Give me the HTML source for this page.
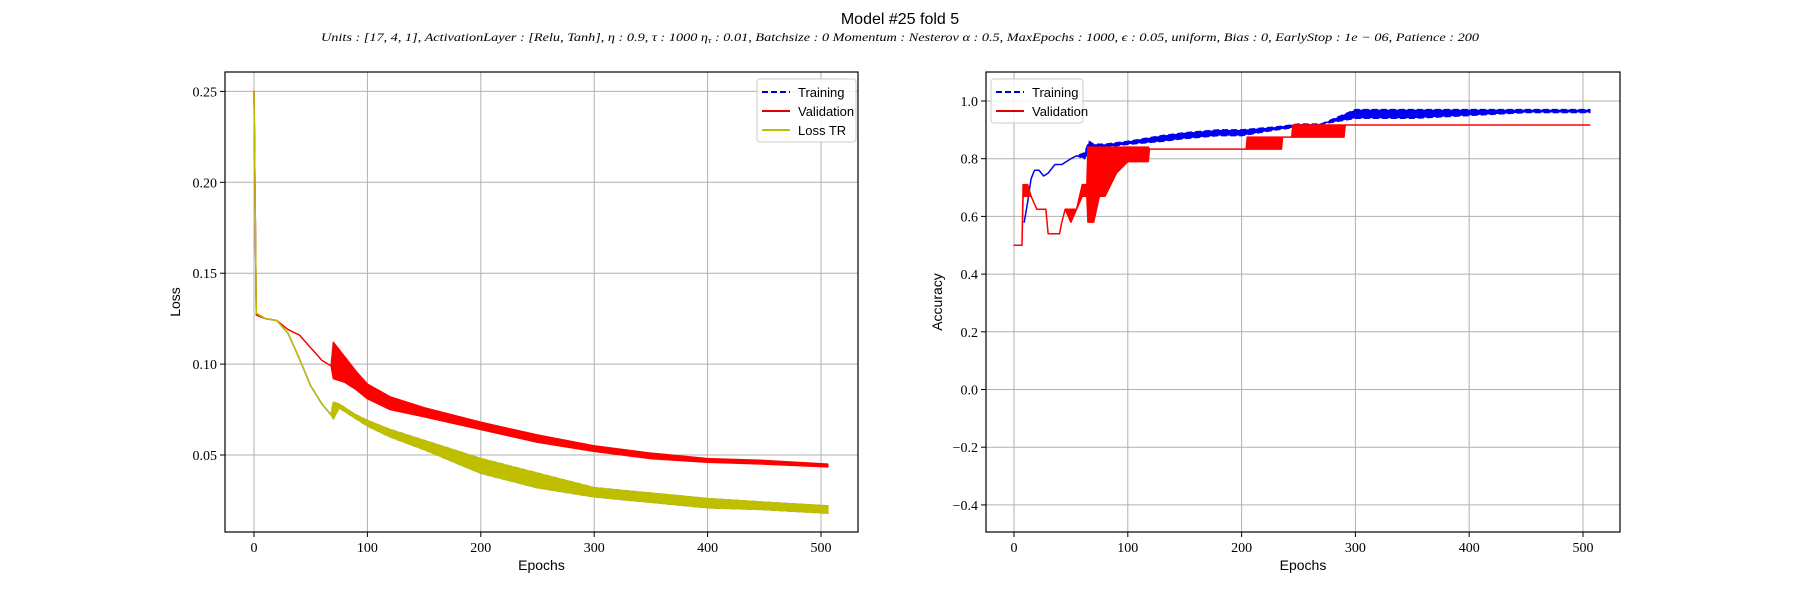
<!DOCTYPE html>
<html><head><meta charset="utf-8"><style>
html,body{margin:0;padding:0;background:#fff;}
svg text{font-family:"Liberation Serif",serif;}
</style></head><body>
<svg id="fig" width="1800" height="600" viewBox="0 0 1800 600" xmlns="http://www.w3.org/2000/svg">
<text x="900" y="24" text-anchor="middle" font-size="16" style="font-family:'Liberation Sans',sans-serif">Model #25 fold 5</text>
<text x="900" y="41" text-anchor="middle" font-size="12" font-style="italic" textLength="1158" lengthAdjust="spacingAndGlyphs">Units : [17, 4, 1], ActivationLayer : [Relu, Tanh], η : 0.9, τ : 1000 η<tspan font-size="8" dy="2">τ</tspan><tspan dy="-2"> : 0.01, Batchsize : 0 Momentum : Nesterov α : 0.5, MaxEpochs : 1000, ϵ : 0.05, uniform, Bias : 0, EarlyStop : 1e − 06, Patience : 200</tspan></text>
<g id="left"></g>
<g id="right"></g>
</svg>
<script>
// ---- Loss chart data ----
const lossEpochs   = [0, 2, 10, 20, 30, 40, 50, 60, 68, 70, 75, 80, 90, 100, 120, 150, 200, 250, 300, 350, 400, 450, 506];
const valLossLow   = [0.25,0.127,0.125,0.124,0.119,0.116,0.109,0.102,0.099,0.092,0.091,0.090,0.086,0.081,0.075,0.071,0.064,0.057,0.052,0.048,0.046,0.045,0.0435];
const valLossHigh  = [0.25,0.127,0.125,0.124,0.119,0.116,0.109,0.102,0.099,0.112,0.108,0.104,0.096,0.089,0.082,0.076,0.068,0.061,0.055,0.051,0.048,0.047,0.045];
const trLossLow    = [0.25,0.128,0.125,0.124,0.117,0.103,0.088,0.078,0.072,0.070,0.076,0.074,0.070,0.066,0.060,0.053,0.040,0.032,0.027,0.024,0.021,0.020,0.018];
const trLossHigh   = [0.25,0.128,0.125,0.124,0.117,0.103,0.088,0.078,0.072,0.079,0.078,0.076,0.072,0.069,0.064,0.058,0.048,0.040,0.032,0.029,0.026,0.024,0.022];
const lossXTicks   = [0,100,200,300,400,500];
const lossYTicks   = [0.05,0.10,0.15,0.20,0.25];
const lossYLabels  = ["0.05","0.10","0.15","0.20","0.25"];
// ---- Accuracy chart data ----
const accTrEpochs  = [9, 12, 15, 18, 22, 26, 30, 36, 42, 50, 55, 62, 66, 70, 80, 100, 130, 150, 180, 200, 230, 250, 270, 300, 350, 400, 450, 506];
const accTrLow     = [0.58,0.65,0.73,0.76,0.76,0.74,0.75,0.78,0.78,0.80,0.81,0.80,0.83,0.84,0.84,0.85,0.86,0.87,0.88,0.88,0.90,0.91,0.92,0.94,0.94,0.95,0.96,0.96];
const accTrHigh    = [0.58,0.65,0.73,0.76,0.76,0.74,0.75,0.78,0.78,0.80,0.81,0.82,0.86,0.85,0.85,0.86,0.88,0.89,0.90,0.90,0.91,0.92,0.92,0.97,0.97,0.97,0.97,0.97];
const accValEpochs = [0, 7, 8, 12, 15, 20, 28, 30, 40, 42, 45, 50, 55, 60, 64, 65, 70, 75, 80, 90, 100, 118, 119, 204, 205, 235, 236, 244, 245, 290, 291, 506];
const accValLow    = [0.5,0.5,0.67,0.67,0.67,0.625,0.625,0.54,0.54,0.58,0.625,0.58,0.625,0.67,0.67,0.58,0.58,0.67,0.67,0.75,0.79,0.79,0.833,0.833,0.833,0.833,0.875,0.875,0.875,0.875,0.917,0.917];
const accValHigh   = [0.5,0.5,0.71,0.71,0.67,0.625,0.625,0.54,0.54,0.58,0.625,0.625,0.625,0.71,0.71,0.84,0.84,0.84,0.84,0.84,0.84,0.84,0.833,0.833,0.875,0.875,0.875,0.875,0.917,0.917,0.917,0.917];
const accXTicks    = [0,100,200,300,400,500];
const accYTicks    = [-0.4,-0.2,0.0,0.2,0.4,0.6,0.8,1.0];
const accYLabels   = ["−0.4","−0.2","0.0","0.2","0.4","0.6","0.8","1.0"];

const NS="http://www.w3.org/2000/svg";
function mk(parent,tag,attrs){const e=document.createElementNS(NS,tag);for(const k in attrs)e.setAttribute(k,attrs[k]);parent.appendChild(e);return e;}

function frame(g,box,xs,ys,xT,yT,yL,yTitle,nameP){
  xT.forEach((t,i)=>{
    const l=mk(g,'line',{x1:xs(t),x2:xs(t),y1:box.t,y2:box.b,stroke:'#b0b0b0','stroke-width':1});
    
    
    mk(g,'line',{x1:xs(t),x2:xs(t),y1:box.b,y2:box.b+5,stroke:'#000'});
    const tx=mk(g,'text',{x:xs(t),y:box.b+20,'text-anchor':'middle','font-size':14});
    tx.textContent=String(t);
    
    
  });
  yT.forEach((t,i)=>{
    const l=mk(g,'line',{x1:box.l,x2:box.r,y1:ys(t),y2:ys(t),stroke:'#b0b0b0','stroke-width':1});
    
    
    mk(g,'line',{x1:box.l-5,x2:box.l,y1:ys(t),y2:ys(t),stroke:'#000'});
    const tx=mk(g,'text',{x:box.l-8,y:ys(t)+5,'text-anchor':'end','font-size':14});
    tx.textContent=yL[i];
    
    
  });
  const xl=mk(g,'text',{x:(box.l+box.r)/2,y:box.b+38,'text-anchor':'middle','font-size':14,style:"font-family:'Liberation Sans',sans-serif"});
  xl.textContent='Epochs';
  
  
  const yl=mk(g,'text',{x:0,y:0,'text-anchor':'middle','font-size':14,style:"font-family:'Liberation Sans',sans-serif",transform:`translate(${box.yt},${(box.t+box.b)/2}) rotate(-90)`});
  yl.textContent=yTitle;
  
  
}
function border(g,box){
  const r=mk(g,'rect',{x:box.l,y:box.t,width:box.r-box.l,height:box.b-box.t,fill:'none',stroke:'#000','stroke-width':1.2});
  
  
}
function band(g,xs,ys,ep,lo,hi,color,name,dash){
  const up=ep.map((e,i)=>xs(e)+','+ys(hi[i]));
  const dn=ep.map((e,i)=>xs(e)+','+ys(lo[i])).reverse();
  const p=mk(g,'polygon',{points:up.concat(dn).join(' '),fill:color,stroke:color,'stroke-width':1.5,'stroke-linejoin':'round'});
  if(dash){p.setAttribute('stroke-dasharray',dash);}
  
  
}
function legend(g,x,y,w,entries){
  const r=mk(g,'rect',{x:x,y:y,width:w,height:entries.length*19+6,fill:'#fff','fill-opacity':0.85,stroke:'#ccc',rx:3});
  
  
  entries.forEach((en,i)=>{
    const cy=y+13+i*19;
    const l=mk(g,'line',{x1:x+5,x2:x+33,y1:cy,y2:cy,stroke:en.c,'stroke-width':2});
    if(en.d)l.setAttribute('stroke-dasharray',en.d);
    
    
    const t=mk(g,'text',{x:x+41,y:cy+5,'font-size':13,style:"font-family:'Liberation Sans',sans-serif"});
    t.textContent=en.t;
    
    
  });
}

// Left chart
(function(){
  const g=document.getElementById('left');
  const box={l:225,r:858,t:72,b:532,yt:180};
  const xs=e=>254+(e)*(821-254)/500;
  const ys=v=>455-(v-0.05)*(363.6/0.2);
  frame(g,box,xs,ys,lossXTicks,lossYTicks,lossYLabels,'Loss','loss');
  band(g,xs,ys,lossEpochs,trLossLow,trLossHigh,'#1f3fd0','loss-training-series','5,3');
  band(g,xs,ys,lossEpochs,valLossLow,valLossHigh,'#ff0000','loss-validation-series');
  band(g,xs,ys,lossEpochs,trLossLow,trLossHigh,'#bfbf00','loss-tr-series');
  border(g,box);
  legend(g,757,79,99,[{t:'Training',c:'#0000cc',d:'6,3'},{t:'Validation',c:'#dd0000'},{t:'Loss TR',c:'#bfbf00'}]);
})();
// Right chart
(function(){
  const g=document.getElementById('right');
  const box={l:986,r:1620,t:72,b:532,yt:942};
  const xs=e=>1014+(e)*(1583-1014)/500;
  const ys=v=>101-(v-1.0)*(57.7/0.2);
  frame(g,box,xs,ys,accXTicks,accYTicks,accYLabels,'Accuracy','acc');
  band(g,xs,ys,accTrEpochs,accTrLow,accTrHigh,'#0000ee','accuracy-training-series','6,3');
  band(g,xs,ys,accValEpochs,accValLow,accValHigh,'#ff0000','accuracy-validation-series');
  border(g,box);
  legend(g,991,79,92,[{t:'Training',c:'#0000cc',d:'6,3'},{t:'Validation',c:'#dd0000'}]);
})();
</script>
</body></html>
